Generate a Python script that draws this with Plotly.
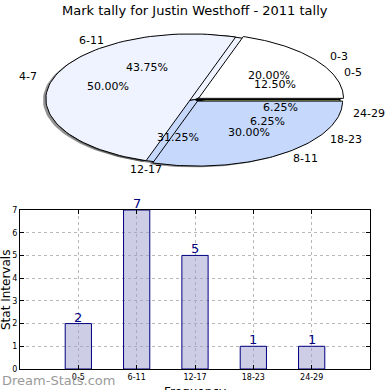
import numpy as np
import plotly.graph_objects as go

# ---------------- data ----------------
title_text = "Mark tally for Justin Westhoff - 2011 tally"

pie_a_labels = ["0-3", "4-7", "8-11"]
pie_a_values = [20, 50, 30]
pie_a_colors = ["#FFFFFF", "#EEF3FF", "#C6D9FD"]

pie_b_labels = ["0-5", "6-11", "12-17", "18-23", "24-29"]
pie_b_values = [2, 7, 5, 1, 1]
pie_b_colors = ["#FFFFFF", "#EEF3FF", "#C6D9FD", "#8E9BB8", "#A9B86A"]

categories = ["0-5", "6-11", "12-17", "18-23", "24-29"]
counts = [2, 7, 5, 1, 1]
y_ticks = [0, 1, 2, 3, 4, 5, 6, 7]

FONT = "DejaVu Sans"
explode_a = 0.03
shadow_off = (-0.02, -0.02)

fig = go.Figure()


def wedge_pts(t1, t2, cx, cy):
    th = np.radians(np.linspace(t1, t2, 80))
    xs = np.concatenate([[cx], cx + np.cos(th), [cx]])
    ys = np.concatenate([[cy], cy + np.sin(th), [cy]])
    return xs, ys


def pie_geometry(values, explode):
    vals = np.asarray(values, dtype=float)
    frac = vals / vals.sum()
    edges = np.concatenate([[0], np.cumsum(frac)]) * 360.0
    geo = []
    for i in range(len(vals)):
        t1, t2 = edges[i], edges[i + 1]
        mid = np.radians((t1 + t2) / 2)
        cx, cy = explode * np.cos(mid), explode * np.sin(mid)
        geo.append((t1, t2, mid, cx, cy, frac[i]))
    return geo


geo_b = pie_geometry(pie_b_values, 0.0)
geo_a = pie_geometry(pie_a_values, explode_a)

# shadows (beneath every wedge)
for geo in (geo_b, geo_a):
    for (t1, t2, mid, cx, cy, f) in geo:
        xs, ys = wedge_pts(t1, t2, cx + shadow_off[0], cy + shadow_off[1])
        fig.add_trace(go.Scatter(x=xs, y=ys, mode="lines", fill="toself",
                                 fillcolor="rgba(40,40,40,0.5)",
                                 line=dict(width=0), hoverinfo="skip",
                                 showlegend=False, xaxis="x2", yaxis="y2"))

annotations = []
for geo, labels, colors in ((geo_b, pie_b_labels, pie_b_colors),
                            (geo_a, pie_a_labels, pie_a_colors)):
    for i, (t1, t2, mid, cx, cy, f) in enumerate(geo):
        xs, ys = wedge_pts(t1, t2, cx, cy)
        fig.add_trace(go.Scatter(x=xs, y=ys, mode="lines", fill="toself",
                                 fillcolor=colors[i],
                                 line=dict(color="black", width=1),
                                 hoverinfo="skip", showlegend=False,
                                 xaxis="x2", yaxis="y2"))
        lx, ly = cx + 1.1 * np.cos(mid), cy + 1.1 * np.sin(mid)
        annotations.append(dict(x=lx, y=ly, xref="x2", yref="y2",
                                text=labels[i], showarrow=False,
                                xanchor="left" if lx > 0 else "right",
                                yanchor="middle",
                                font=dict(family=FONT, size=11, color="black")))
        px, py = cx + 0.6 * np.cos(mid), cy + 0.6 * np.sin(mid)
        annotations.append(dict(x=px, y=py, xref="x2", yref="y2",
                                text="%.2f%%" % (f * 100), showarrow=False,
                                xanchor="center", yanchor="middle",
                                font=dict(family=FONT, size=11, color="black")))

# ---------------- bar chart ----------------
xpos = list(range(len(categories)))
fig.add_trace(go.Bar(x=xpos, y=counts, width=0.45,
                     marker=dict(color="rgba(155,155,205,0.5)",
                                 line=dict(color="#000080", width=1)),
                     hoverinfo="skip", showlegend=False,
                     xaxis="x", yaxis="y"))
for xi, v in zip(xpos, counts):
    annotations.append(dict(x=xi, y=v, xref="x", yref="y", text=str(v),
                            showarrow=False, yanchor="bottom", yshift=-3,
                            font=dict(family=FONT, size=13, color="#000080")))

annotations.append(dict(x=0.5, y=0.974, xref="paper", yref="paper",
                        text=title_text, showarrow=False,
                        xanchor="center", yanchor="middle",
                        font=dict(family=FONT, size=13, color="black")))
annotations.append(dict(x=6 / 390, y=(390 - 290) / 390, xref="paper",
                        yref="paper", text="Stat Intervals", textangle=-90,
                        showarrow=False, xanchor="center", yanchor="middle",
                        font=dict(family=FONT, size=12, color="black")))
annotations.append(dict(x=0.5, y=(390 - 383) / 390, xref="paper", yref="paper",
                        text="Frequency", showarrow=False,
                        xanchor="center", yanchor="top",
                        font=dict(family=FONT, size=12, color="black")))
annotations.append(dict(x=0.0, y=(390 - 380) / 390, xref="paper", yref="paper",
                        text="Dream-Stats.com", showarrow=False,
                        xanchor="left", yanchor="middle",
                        font=dict(family=FONT, size=13, color="#9a9a9a")))

fig.update_layout(
    width=390, height=390,
    margin=dict(l=0, r=0, t=0, b=0),
    paper_bgcolor="white", plot_bgcolor="white",
    annotations=annotations,
    xaxis=dict(domain=[20 / 390, 370 / 390], range=[-1, 5],
               tickvals=xpos, ticktext=categories,
               tickfont=dict(family=FONT, size=8, color="black"),
               showgrid=True, gridcolor="#b8b8b8", griddash="dot",
               showline=True, linecolor="black", linewidth=1, mirror="ticks",
               ticks="inside", ticklen=4, tickcolor="black",
               zeroline=False, fixedrange=True, automargin=False),
    yaxis=dict(domain=[21 / 390, 180 / 390], range=[0, 7],
               tickvals=y_ticks,
               tickfont=dict(family=FONT, size=8, color="black"),
               showgrid=True, gridcolor="#b8b8b8", griddash="dot",
               showline=True, linecolor="black", linewidth=1, mirror="ticks",
               ticks="inside", ticklen=4, tickcolor="black",
               zeroline=False, fixedrange=True, automargin=False),
    xaxis2=dict(domain=[0, 1], range=[-195 / 145, 195 / 145], visible=False,
                fixedrange=True, anchor="y2"),
    yaxis2=dict(domain=[0.5, 1], range=[-95.5 / 65, 99.5 / 65], visible=False,
                fixedrange=True, anchor="x2"),
)

fig.write_html("out.html", config={"displayModeBar": False},
               post_script="document.body.style.margin='0';")
